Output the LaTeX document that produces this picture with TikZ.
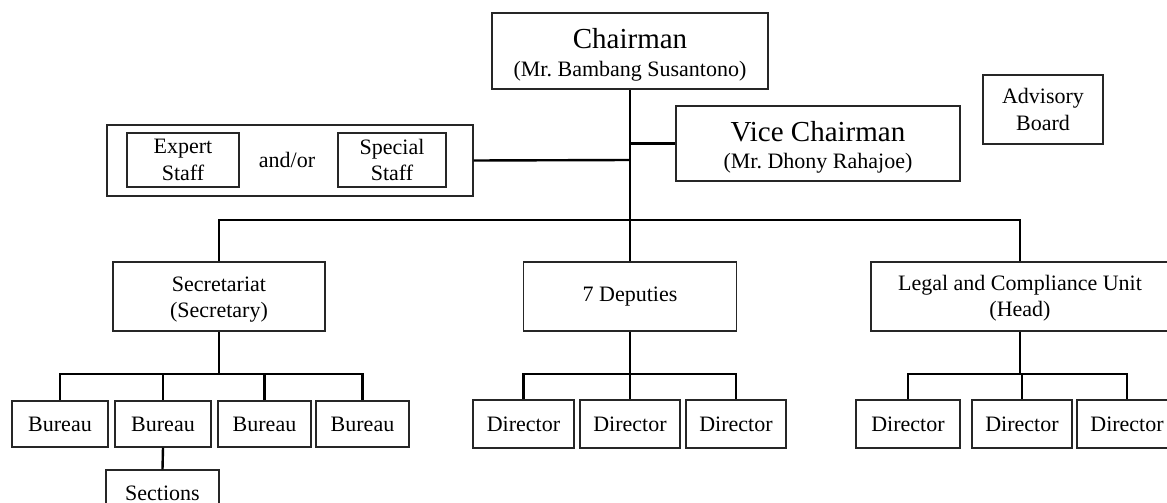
\documentclass[tikz,border=0pt]{standalone}
\usepackage{fontspec}
\setmainfont{Liberation Serif}
% invisible strut that gives the first line of a text block extra height
\newcommand\topstrut[1]{\rule{0pt}{#1}}
\begin{document}
\begin{tikzpicture}[x=1pt,y=-1pt,
  box/.style={draw=black!85, line width=1.2pt, rectangle, inner sep=0pt,
    align=center, font=\fontsize{22}{26.5}\selectfont},
  title/.style={box, font=\fontsize{29}{27.5}\selectfont},
  bureau/.style={box, minimum width=96pt, minimum height=46pt},
  director/.style={box, minimum width=100pt, minimum height=48pt},
  unit/.style={box, minimum height=69pt},
  link/.style={draw=black, line width=2.4pt},
]
\useasboundingbox (0,0) rectangle (1167,503);
\clip (0,0) rectangle (1167,503);

% top level
\node[title, minimum width=276pt, minimum height=76pt] (chair) at (630,51)
  {\topstrut{28pt}Chairman\\{\fontsize{22}{26}\selectfont (Mr.\ Bambang Susantono)}};
\node[title, minimum width=284pt, minimum height=75pt] (vice) at (818,143.5)
  {\topstrut{28pt}Vice Chairman\\{\fontsize{22}{26}\selectfont (Mr.\ Dhony Rahajoe)}};
\node[box, minimum width=120pt, minimum height=69pt] (advisory) at (1043,109.5)
  {Advisory\\Board};

% staff group
\node[box, minimum width=366pt, minimum height=71pt] (staff) at (290,160.5) {};
\node[box, minimum width=112pt, minimum height=54pt] (expert) at (183,160) {Expert\\Staff};
\node[box, minimum width=108pt, minimum height=54pt] (special) at (392,160) {Special\\Staff};
\node[font=\fontsize{22}{26}\selectfont, inner sep=0pt] (andor) at (287,160) {and/or};

% second level
\node[unit, minimum width=212pt] (sec) at (219,296.5) {\topstrut{21pt}Secretariat\\(Secretary)};
\node[unit, minimum width=213pt] (dep) at (630,296.5) {7 Deputies};
\node[unit, minimum width=298pt] (legal) at (1020,296.5) {\topstrut{19pt}Legal and Compliance Unit\\(Head)};

% bureaus
\node[bureau] (b1) at (60,424) {Bureau};
\node[bureau] (b2) at (163,424) {Bureau};
\node[bureau, minimum width=93pt] (b3) at (264.5,424) {Bureau};
\node[bureau, minimum width=93pt] (b4) at (362.5,424) {Bureau};
\node[bureau, minimum width=113pt] (sections) at (162.5,493) {Sections};

% directors under deputies
\node[director, minimum width=101pt] (d1) at (523.5,424) {Director};
\node[director] (d2) at (630,424) {Director};
\node[director] (d3) at (736,424) {Director};

% directors under legal unit
\node[director, minimum width=104pt] (e1) at (908,424) {Director};
\node[director] (e2) at (1022,424) {Director};
\node[director] (e3) at (1127,424) {Director};

% junction points
\coordinate (toVice) at (630,143.5);
\coordinate (toStaff) at (630,160);
\coordinate (topBus) at (630,220);
\coordinate (secBus) at (219,374);
\coordinate (depBus) at (630,374);
\coordinate (legBus) at (1020,374);

% connectors
\draw[link] (chair.south) -- (topBus);
\draw[link] (toVice) -- (vice.west);
\draw[link] (toStaff) -- (staff.east);
\draw[link] (topBus) -| (sec.north);
\draw[link] (topBus) -- (dep.north);
\draw[link] (topBus) -| (legal.north);

\draw[link] (sec.south) -- (secBus);
\foreach \n in {b1,b2,b3,b4} \draw[link] (secBus) -| (\n.north);
\draw[link] (b2.south) -- (sections.north);

\draw[link] (dep.south) -- (depBus);
\foreach \n in {d1,d2,d3} \draw[link] (depBus) -| (\n.north);

\draw[link] (legal.south) -- (legBus);
\foreach \n in {e1,e2,e3} \draw[link] (legBus) -| (\n.north);
\end{tikzpicture}
\end{document}
